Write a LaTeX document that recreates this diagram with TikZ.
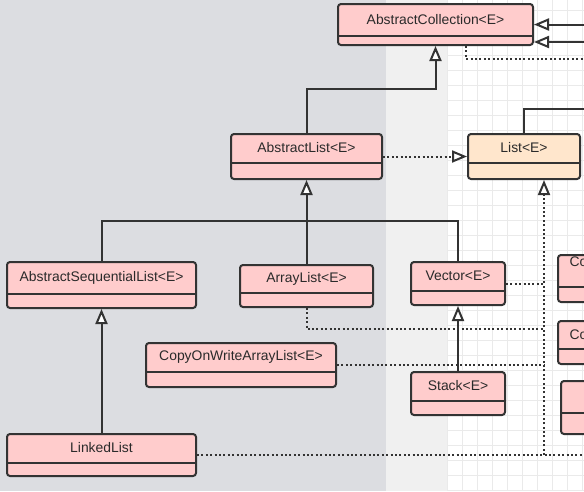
\documentclass[tikz,border=0pt]{standalone}
\usepackage{fontspec}
\setmainfont{Liberation Sans}
\usetikzlibrary{arrows.meta}
\definecolor{bgL}{HTML}{DCDDE1}
\definecolor{bgM}{HTML}{F0F0F0}
\definecolor{gridc}{HTML}{EAEAEA}
\definecolor{pinkf}{HTML}{FFCCCC}
\definecolor{orangef}{HTML}{FFE6CC}
\definecolor{ink}{HTML}{333333}
\definecolor{textc}{HTML}{2A2A2A}
\tikzset{
  clsbox/.style={draw=ink, line width=2pt, rounded corners=3pt, inner sep=0pt},
  clsline/.style={draw=ink, line width=2pt},
  clstext/.style={text=textc, font=\fontsize{13.9}{16}\selectfont, inner sep=0pt},
  inh/.style={draw=ink, line width=2pt, -{Triangle[fill=white, length=15pt, width=12pt]}},
  solidl/.style={draw=ink, line width=2pt},
  dotl/.style={draw=ink, line width=2pt, dash pattern=on 2pt off 2.4pt},
  real/.style={dotl, -{Triangle[fill=white, length=15pt, width=12pt, line width=2pt]}},
}
\newcommand{\umlcls}[8]{%
  \node[clsbox, fill=#7, minimum width={(#4-#2-2)*1pt}, minimum height={(#5-#3-2)*1pt}] (#1) at ({(#2+#4)/2},{(#3+#5)/2}) {};
  \draw[clsline] ({#2+1},#6) -- ({#4-1},#6);
  \node[clstext] (#1-t) at ({(#2+#4)/2},{(#3+#6)/2}) {#8};
}
\begin{document}
\begin{tikzpicture}[x=1pt,y=-1pt]
\useasboundingbox (0,0) rectangle (584,491);
\clip (0,0) rectangle (584,491);
% backgrounds
\fill[bgL] (0,0) rectangle (386,491);
\fill[bgM] (386,0) rectangle (447,491);
\fill[white] (447,0) rectangle (584,491);
\foreach \x in {447,462,...,590} \draw[gridc, line width=0.8pt] (\x,0) -- (\x,491);
\foreach \y in {10,25,...,495} \draw[gridc, line width=0.8pt] (447,\y) -- (584,\y);
% classes
\umlcls{AC}{337}{3}{534}{46}{36}{pinkf}{AbstractCollection<E>}
\umlcls{AL}{230}{133}{383}{180}{163}{pinkf}{AbstractList<E>}
\umlcls{LI}{467}{133}{581}{180}{163}{orangef}{List<E>}
\umlcls{ASL}{6}{261}{197}{309}{294}{pinkf}{AbstractSequentialList<E>}
\umlcls{ARL}{239}{264}{374}{308}{293}{pinkf}{ArrayList<E>}
\umlcls{VEC}{410}{261}{506}{306}{291}{pinkf}{Vector<E>}
\umlcls{COW}{145}{342}{337}{388}{372}{pinkf}{CopyOnWriteArrayList<E>}
\umlcls{STK}{410}{371}{506}{416}{401}{pinkf}{Stack<E>}
\umlcls{LL}{6}{433}{197}{477}{463}{pinkf}{LinkedList}
% partial classes at the right edge
\node[clsbox, fill=pinkf, minimum width=60pt, minimum height=47pt] (R1) at (588,278.5) {};
\draw[clsline] (558,287) -- (620,287);
\node[clstext, anchor=west] (R1-t) at (569.5,262) {Co};
\node[clsbox, fill=pinkf, minimum width=60pt, minimum height=43pt] (R2) at (588,342.5) {};
\draw[clsline] (558,349) -- (620,349);
\node[clstext, anchor=west] (R2-t) at (569.5,335) {Co};
\node[clsbox, fill=pinkf, minimum width=60pt, minimum height=53pt] (R3) at (591,407.5) {};
\draw[clsline] (561,413) -- (620,413);
% off-picture ends
\coordinate (E1) at (600,24.5);
\coordinate (E2) at (600,42);
\coordinate (E3) at (600,59);
\coordinate (E4) at (600,109);
\coordinate (E5) at (600,455);
\coordinate (J) at (544,455);
% connectors
\draw[inh] (E1) -- (AC.east);
\draw[inh] (E2) -- (AC.east |- E2);
\draw[dotl] (AC.south -| 466,0) |- (E3);
\draw[inh] (AL.north) -- (AL.north |- 0,89) -| (AC.south);
\draw[solidl] (LI.north) |- (E4);
\draw[real] (AL.east) -- (LI.west);
\draw[solidl] (ASL.north) -- (ASL.north |- 0,221) -| (VEC.north);
\draw[inh] (ARL.north) -- (AL.south);
\draw[inh] (LL.north) -- (ASL.south);
\draw[inh] (STK.north) -- (VEC.south);
\draw[dotl] (VEC.east) -- (VEC.east -| J);
\draw[dotl] (ARL.south) -- (ARL.south |- 0,329) -- (J |- 0,329);
\draw[dotl] (COW.east) -- (COW.east -| J);
\draw[dotl] (LL.east) -- (E5);
\draw[real] (J) -- (J |- LI.south);
\end{tikzpicture}
\end{document}
